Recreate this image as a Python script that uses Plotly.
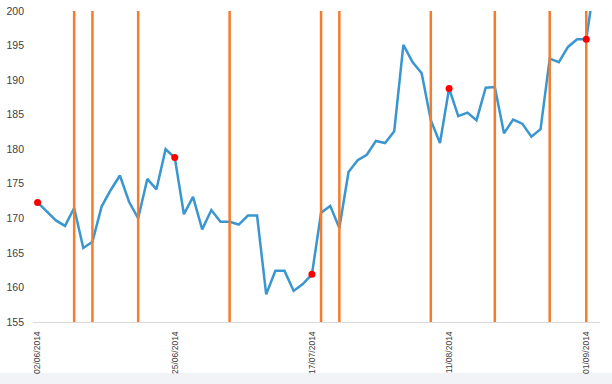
import plotly.graph_objects as go

# ---- data ----
prices = [172.3, 171.0, 169.7, 168.9, 171.5, 165.7, 166.6, 171.7, 174.1, 176.2,
          172.4, 170.0, 175.7, 174.2, 180.0, 178.8, 170.6, 173.1, 168.4, 171.2,
          169.5, 169.5, 169.1, 170.4, 170.4, 159.0, 162.4, 162.4, 159.5, 160.5,
          161.9, 170.8, 171.8, 168.6, 176.7, 178.4, 179.2, 181.2, 180.9, 182.6,
          195.1, 192.6, 191.0, 184.2, 180.9, 188.8, 184.8, 185.3, 184.2, 188.9,
          189.0, 182.3, 184.3, 183.7, 181.8, 182.9, 193.1, 192.6, 194.8, 195.9,
          195.9, 205.0]
x_idx = list(range(len(prices)))
tick_idx = [0, 15, 30, 45, 60]
tick_labels = ["02/06/2014", "25/06/2014", "17/07/2014", "11/08/2014", "01/09/2014"]
marker_idx = [0, 15, 30, 45, 60]
event_idx = [4, 6, 11, 21, 31, 33, 43, 50, 56, 60]
y_min, y_max = 155, 200

# ---- build traces ----
fig = go.Figure()
fig.add_trace(go.Scatter(x=x_idx, y=prices, mode="lines",
                         line=dict(color="#3A96CF", width=2.5), hoverinfo="skip"))

ev_x, ev_y = [], []
for e in event_idx:
    ev_x += [e, e, None]
    ev_y += [y_min, y_max, None]
fig.add_trace(go.Scatter(x=ev_x, y=ev_y, mode="lines",
                         line=dict(color="#F47C2C", width=2.5), hoverinfo="skip"))

fig.add_trace(go.Scatter(x=marker_idx, y=[prices[i] for i in marker_idx], mode="markers",
                         marker=dict(color="#FF0000", size=7), hoverinfo="skip"))

fig.update_layout(
    width=612, height=384,
    margin=dict(l=33, r=12, t=11, b=62, autoexpand=False),
    paper_bgcolor="white", plot_bgcolor="white",
    showlegend=False,
    font=dict(family="Liberation Sans, Arial, sans-serif", color="#404040"),
    shapes=[dict(type="rect", xref="paper", yref="paper", x0=-0.2, x1=1.2,
                 y0=-0.164, y1=-0.3, fillcolor="#F1F3F6", line=dict(width=0),
                 layer="below")],
)
fig.update_xaxes(range=[-0.5, len(prices) - 0.5], tickmode="array",
                 tickvals=tick_idx, ticktext=tick_labels, tickangle=-90,
                 showgrid=False, zeroline=False, showline=True, automargin=False,
                 linecolor="#D9D9D9", linewidth=1, ticks="",
                 tickfont=dict(size=8.5, color="#404040"), ticklabelstandoff=5)
fig.update_yaxes(range=[y_min, y_max], dtick=5, showgrid=False, zeroline=False,
                 showline=False, ticks="", automargin=False,
                 tickfont=dict(size=10.5, color="#404040"),
                 ticklabelstandoff=8)

fig.write_html("out.html", config={"displayModeBar": False, "staticPlot": True},
               post_script="document.body.style.margin='0px';document.body.style.overflow='hidden';")
